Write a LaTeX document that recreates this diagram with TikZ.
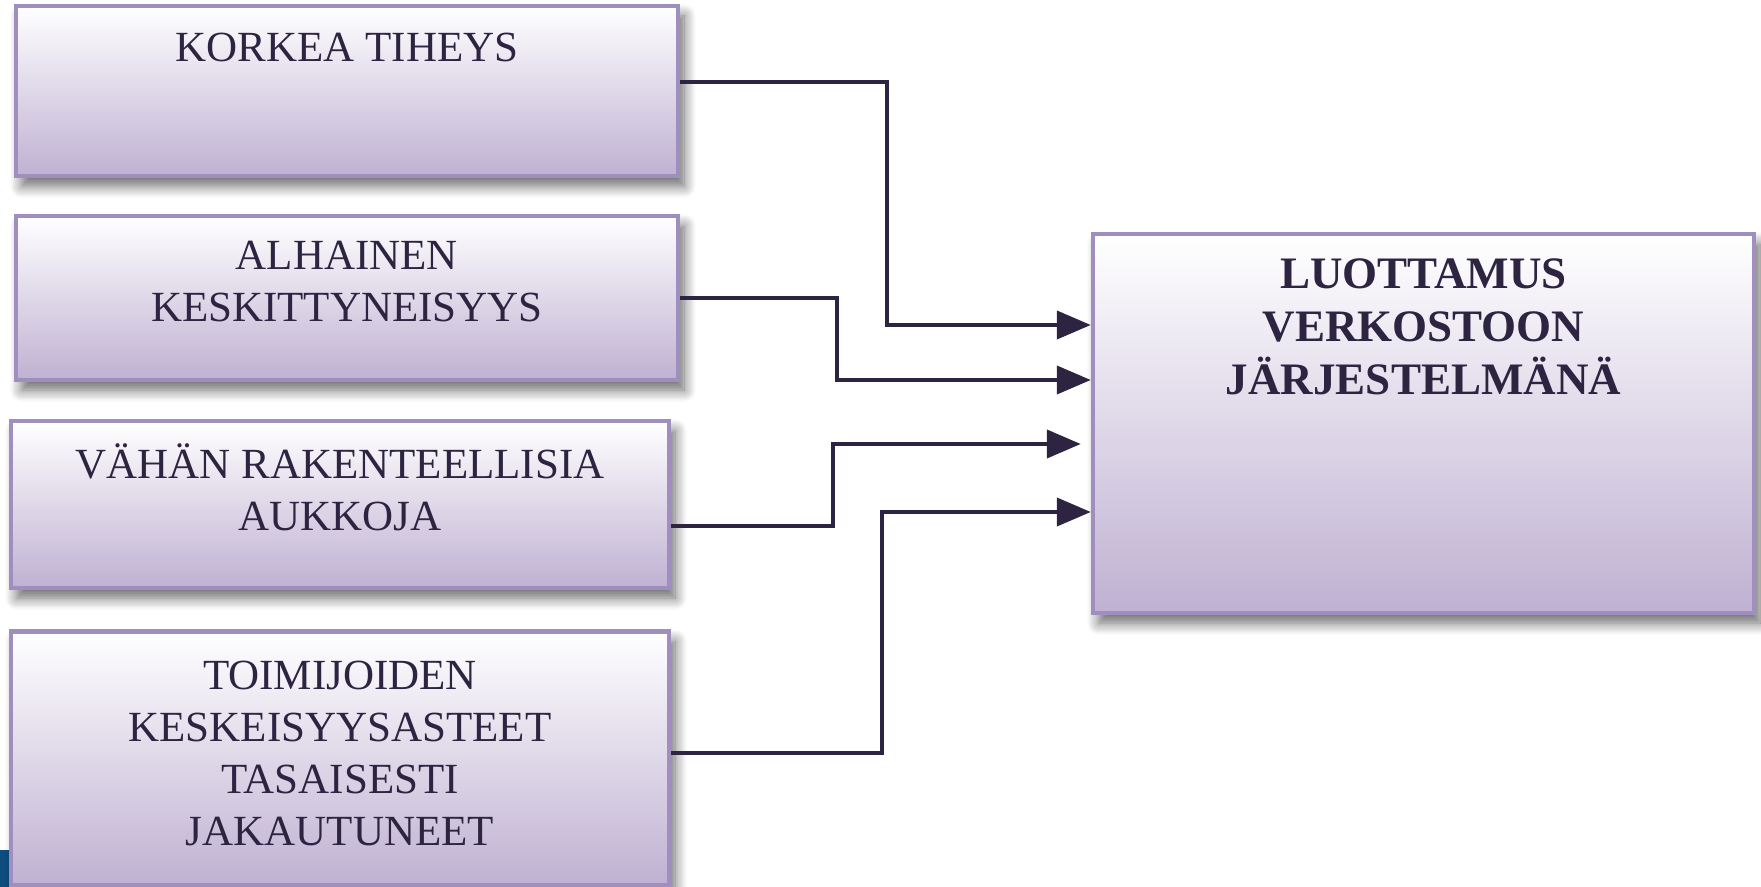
\documentclass[tikz,border=0pt]{standalone}
\usepackage{fontspec}
\setmainfont{Liberation Serif}
\usetikzlibrary{arrows.meta,shadows.blur}

\definecolor{boxline}{HTML}{A08FBE}
\definecolor{boxbottom}{HTML}{BFB1D2}
\definecolor{ink}{HTML}{2D2442}
\definecolor{pageblue}{HTML}{0E4C7E}

\tikzset{
  factorbox/.style={
    draw=boxline, line width=2.2pt,
    top color=white, bottom color=boxbottom,
    inner sep=0pt,
    blur shadow={shadow xshift=3pt, shadow yshift=-5pt,
                 shadow blur radius=6pt, shadow blur steps=10,
                 shadow opacity=60}
  },
  % multi-line labels are placed by the baseline of their last line
  boxtext/.style={
    text=ink, align=center, anchor=base, inner sep=0pt,
    font=\fontsize{21.5pt}{26pt}\selectfont
  },
  goaltext/.style={
    boxtext, font=\fontsize{22.5pt}{26.5pt}\selectfont\bfseries
  },
  conn/.style={
    draw=ink, line width=2pt,
    -{Triangle[length=17pt,width=14pt]}
  }
}

\begin{document}
\begin{tikzpicture}[x=0.5pt,y=-0.5pt]
  \useasboundingbox (0,0) rectangle (1761,887);

  % strip of the page edge behind the lowest box
  \fill[pageblue] (0,850) rectangle (12,887);

  % input factors
  \node[factorbox, minimum width=331pt, minimum height=85pt]  (b1) at (347,91)    {};
  \node[factorbox, minimum width=331pt, minimum height=82pt]  (b2) at (347,298)   {};
  \node[factorbox, minimum width=329pt, minimum height=83.5pt] (b3) at (340,504.5) {};
  \node[factorbox, minimum width=329pt, minimum height=127pt] (b4) at (340,758.5) {};

  % outcome
  \node[factorbox, minimum width=330.5pt, minimum height=189.5pt] (r) at (1423.5,423.5) {};

  % labels
  \node[boxtext] (t1) at (347,62)  {KORKEA TIHEYS};
  \node[boxtext] (t2) at (347,322) {ALHAINEN\\KESKITTYNEISYYS};
  \node[boxtext] (t3) at (340,530) {VÄHÄN RAKENTEELLISIA\\AUKKOJA};
  \node[boxtext] (t4) at (340,845) {TOIMIJOIDEN\\KESKEISYYSASTEET\\TASAISESTI\\JAKAUTUNEET};
  \node[goaltext] (tr) at (1423.5,394) {LUOTTAMUS\\VERKOSTOON\\JÄRJESTELMÄNÄ};

  % bend columns of the connectors
  \coordinate (k1) at (887,0);
  \coordinate (k2) at (837,0);
  \coordinate (k3) at (833,0);
  \coordinate (k4) at (882,0);

  % entry points on the outcome box
  \coordinate (e1) at ([yshift=49.25pt]r.west);
  \coordinate (e2) at ([yshift=21.75pt]r.west);
  \coordinate (e3) at ([yshift=-10.25pt]r.west);
  \coordinate (e4) at ([yshift=-44.25pt]r.west);

  \draw[conn] ([yshift=4.5pt]b1.east) -| (k1 |- e1) -- (e1);
  \draw[conn] (b2.east) -| (k2 |- e2) -- (e2);
  \draw[conn, shorten >=5pt] ([yshift=-10.75pt]b3.east) -| (k3 |- e3) -- (e3);
  \draw[conn] ([yshift=3pt]b4.east) -| (k4 |- e4) -- (e4);
\end{tikzpicture}
\end{document}
